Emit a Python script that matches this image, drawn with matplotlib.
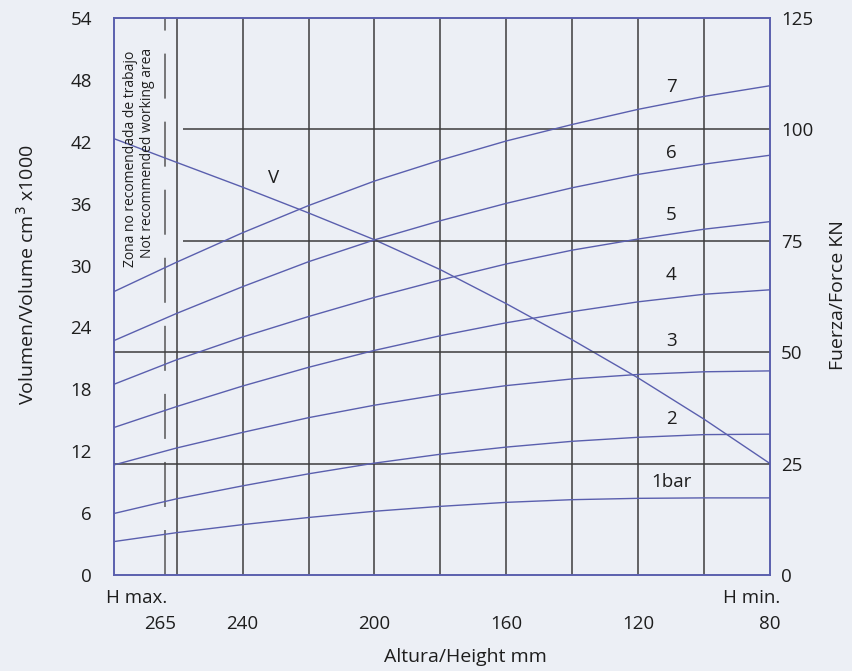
import matplotlib.pyplot as plt
from matplotlib.transforms import blended_transform_factory

plt.rcParams['font.family'] = ['Open Sans', 'DejaVu Sans']
plt.rcParams['lines.scale_dashes'] = False

# altura (mm) en las lineas de la rejilla
heights = [279, 260, 240, 220, 200, 180, 160, 140, 120, 100, 80]

# fuerza KN por presion
force_1bar = [7.5, 9.5, 11.3, 12.9, 14.3, 15.4, 16.3, 16.9, 17.2, 17.3, 17.3]
force_2bar = [13.8, 17.1, 20.0, 22.7, 25.1, 27.1, 28.7, 30.0, 30.9, 31.5, 31.6]
force_3bar = [24.7, 28.5, 32.0, 35.3, 38.1, 40.5, 42.5, 44.0, 45.0, 45.6, 45.8]
force_4bar = [33.1, 37.8, 42.4, 46.6, 50.4, 53.7, 56.6, 59.1, 61.3, 63.0, 64.0]
force_5bar = [42.8, 48.3, 53.4, 58.0, 62.3, 66.2, 69.8, 72.9, 75.4, 77.6, 79.3]
force_6bar = [52.6, 58.7, 64.7, 70.3, 75.2, 79.5, 83.4, 86.9, 89.9, 92.2, 94.2]
force_7bar = [63.6, 70.2, 76.8, 82.9, 88.4, 93.1, 97.4, 101.1, 104.5, 107.4, 109.8]
forces = [force_1bar, force_2bar, force_3bar, force_4bar, force_5bar, force_6bar, force_7bar]
pressure_labels = ['1bar', '2', '3', '4', '5', '6', '7']
label_force = [20.9, 35.0, 52.5, 67.3, 80.8, 94.7, 109.4]

# volumen cm3 x1000
volume = [42.3, 40.0, 37.6, 35.1, 32.5, 29.6, 26.3, 22.8, 19.1, 15.1, 10.8]

vol_ticks = [0, 6, 12, 18, 24, 30, 36, 42, 48, 54]
force_ticks = [0, 25, 50, 75, 100, 125]
height_ticks = [265, 240, 200, 160, 120, 80]
grid_heights = [260, 240, 220, 200, 180, 160, 140, 120, 100]
zone_limit = 263.6

bg = '#eceff5'
blue = '#5a5fae'
dark = '#3c3c3c'
txt = '#1e1e1e'
fs = 13.5

fig = plt.figure(figsize=(8.52, 6.71), dpi=100, facecolor=bg)
ax = fig.add_axes([0.1338, 0.1431, 0.7700, 0.8301])
ax.set_facecolor(bg)
ax.set_xlim(279, 80)
ax.set_ylim(0, 54)

ax2 = ax.twinx()
ax2.set_ylim(0, 125)

# rejilla vertical
for h in grid_heights:
    ax.axvline(h, color=dark, lw=1.1, zorder=1)
ax.axvline(zone_limit, color='#555555', lw=1.1, linestyle=(0, (32.4, 16.6)), zorder=1)

# lineas horizontales de fuerza
ax2.hlines([100, 75], 258, 80, color=dark, lw=1.1, zorder=1)
ax2.hlines([50, 25], 279, 80, color=dark, lw=1.1, zorder=1)

for f, lab, ly in zip(forces, pressure_labels, label_force):
    ax2.plot(heights, f, color=blue, lw=1.0, zorder=3)
    ax2.text(110, ly, lab, fontsize=fs, color=txt, ha='center', va='center')

ax.plot(heights, volume, color=blue, lw=1.0, zorder=3)
ax2.text(230.7, 89.2, 'V', fontsize=fs, color=txt, ha='center', va='center')

# texto zona
ax.text(274.0, 40.3, 'Zona no recomendada de trabajo', rotation=90, fontsize=10,
        ha='center', va='center', color=txt)
ax.text(268.8, 40.9, 'Not recommended working area', rotation=90, fontsize=10,
        ha='center', va='center', color=txt)

# ejes
for a in (ax, ax2):
    for s in a.spines.values():
        s.set_color(blue)
        s.set_linewidth(1.2)

ax.set_yticks(vol_ticks)
ax.set_yticks(vol_ticks[1:-1], minor=True)
ax.tick_params(axis='y', which='major', length=0, pad=16, labelsize=fs, labelcolor=txt)
ax.tick_params(axis='y', which='minor', direction='inout', length=16, width=1.0, color='#444444')
ax.set_xticks(height_ticks)
ax.set_xticklabels([str(h) for h in height_ticks])
ax.tick_params(axis='x', length=0, pad=29, labelsize=fs, labelcolor=txt)

ax2.set_yticks(force_ticks)
ax2.tick_params(axis='y', length=0, pad=8, labelsize=fs, labelcolor=txt)

trans = blended_transform_factory(ax.transData, ax.transAxes)
ax.text(272, -0.041, 'H max.', transform=trans, fontsize=fs, ha='center', va='center', color=txt)
ax.text(85.5, -0.041, 'H min.', transform=trans, fontsize=fs, ha='center', va='center', color=txt)

fig.text(465 / 852, 1 - 657 / 671, 'Altura/Height mm', fontsize=14, ha='center', va='center', color=txt)
fig.text(27 / 852, 1 - 275 / 671, 'Volumen/Volume cm$^3$ x1000', rotation=90, fontsize=14,
         ha='center', va='center', color=txt)
fig.text(838 / 852, 1 - 295 / 671, 'Fuerza/Force KN', rotation=90, fontsize=14,
         ha='center', va='center', color=txt)

fig.savefig('out.png', dpi=100, facecolor=bg)
